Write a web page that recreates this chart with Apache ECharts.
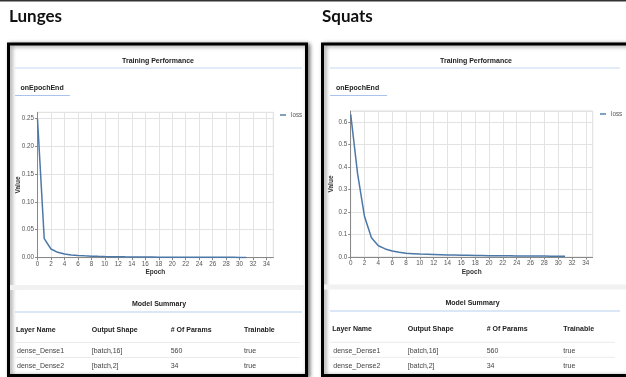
<!DOCTYPE html>
<html>
<head>
<meta charset="utf-8">
<script src="https://cdn.jsdelivr.net/npm/echarts@6/dist/echarts.min.js"></script>
<style>
  html, body { margin: 0; padding: 0; background: #fff; }
  #main { width: 626px; height: 377px; }
</style>
</head>
<body>
<div id="main"></div>
<script>
// data
var epochs = [0, 1, 2, 3, 4, 5, 6, 7, 8, 9, 10, 11, 12, 13, 14, 15,
  16, 17, 18, 19, 20, 21, 22, 23, 24, 25, 26, 27, 28, 29, 30, 31]
var lungesLoss = [0.248, 0.034, 0.0155, 0.0096, 0.0066, 0.005, 0.004, 0.0033,
  0.0028, 0.0024, 0.0021, 0.0019, 0.0017, 0.0015, 0.0014, 0.0013, 0.0012,
  0.0011, 0.001, 0.001, 0.0009, 0.0009, 0.0008, 0.0008, 0.0007, 0.0007,
  0.0007, 0.0006, 0.0006, 0.0006, 0.0005, 0.0005]
var squatsLoss = [0.635, 0.37, 0.18, 0.086, 0.05, 0.036, 0.027, 0.021,
  0.017, 0.015, 0.013, 0.012, 0.011, 0.01, 0.009, 0.0085, 0.008, 0.0075,
  0.007, 0.0065, 0.006, 0.0057, 0.0054, 0.0051, 0.0048, 0.0046, 0.0044,
  0.0042, 0.004, 0.0038, 0.0036, 0.0035]
var panelNames = ['Lunges', 'Squats']
var tableHeaders = ['Layer Name', 'Output Shape', '# Of Params', 'Trainable']
var tableRows = [
  ['dense_Dense1', '[batch,16]', '560', 'true'],
  ['dense_Dense2', '[batch,2]', '34', 'true']
]

var SANS = '"Liberation Sans", Arial, sans-serif'
var LINE_COLOR = '#4c78a8'

// layout of the two cards (pixel positions in the 626x377 window)
var layouts = [
  {
    titleX: 9, boxX: 8.5, boxW: 298, boxY: 44, boxH: 331.5,
    midX: 158, ruleX1: 15, ruleX2: 302, tabX: 20.5, tabX2: 70,
    bandX: 10, bandX2: 305, bandY: 285, sumX: 159, sumY: 304, sumRule: 312,
    headY: 330, cols: [16, 91.7, 170.7, 244], rowY: [351, 366], sepY: [342.5, 357.5], sepX2: 300
  },
  {
    titleX: 322, boxX: 322.5, boxW: 320, boxY: 44, boxH: 331.5,
    midX: 476, ruleX1: 330, ruleX2: 620, tabX: 336, tabX2: 387,
    bandX: 324, bandX2: 626, bandY: 284.5, sumX: 472.5, sumY: 303.5, sumRule: 311,
    headY: 329, cols: [332.3, 407.7, 486.7, 563.3], rowY: [350.7, 366], sepY: [342.3, 357.3], sepX2: 615
  }
]

function text(str, x, y, font, fill, align) {
  return {
    type: 'text',
    z: 5,
    style: {
      text: str, x: x, y: y, font: font, fill: fill,
      textAlign: align || 'left', textVerticalAlign: 'middle'
    }
  }
}

function hline(x1, x2, y, color, w) {
  return {
    type: 'line',
    z: 5,
    shape: { x1: x1, y1: y, x2: x2, y2: y },
    style: { stroke: color, lineWidth: w || 1 }
  }
}

function buildPanel(name, p) {
  var els = []
  els.push(text(name, p.titleX, 16.5, 'bold 17px Lato, "Open Sans", sans-serif', '#111'))
  // card with shadow
  els.push({
    type: 'rect', z: -2,
    shape: { x: p.boxX, y: p.boxY, width: p.boxW, height: p.boxH },
    style: {
      fill: '#fff', stroke: '#000', lineWidth: 3,
      shadowBlur: 4, shadowOffsetX: 2, shadowOffsetY: 1, shadowColor: 'rgba(0,0,0,0.45)'
    }
  })
  els.push(text('Training Performance', p.midX, 61, 'bold 7px ' + SANS, '#222', 'center'))
  els.push(hline(p.ruleX1, p.ruleX2, 68, '#c6d8f0', 1.2))
  els.push(text('onEpochEnd', p.tabX, 88, 'bold 7px ' + SANS, '#222'))
  els.push(hline(p.ruleX1, p.tabX2, 95.5, '#a9c3ea', 1))
  // grey gap between the two cards
  els.push({
    type: 'rect', z: -1,
    shape: { x: p.bandX, y: p.bandY, width: p.bandX2 - p.bandX, height: 5 },
    style: { fill: '#f1f1f1' }
  })
  els.push(text('Model Summary', p.sumX, p.sumY, 'bold 7px ' + SANS, '#222', 'center'))
  els.push(hline(p.ruleX1, p.ruleX2, p.sumRule, '#b7cff0', 1.2))
  tableHeaders.forEach(function(h, i) {
    els.push(text(h, p.cols[i], p.headY, 'bold 7px ' + SANS, '#222'))
  })
  p.sepY.forEach(function(y) {
    els.push(hline(p.ruleX1, p.sepX2, y, '#ececec', 1))
  })
  tableRows.forEach(function(row, r) {
    row.forEach(function(cell, i) {
      els.push(text(cell, p.cols[i] + (i === 0 ? 1 : 0), p.rowY[r], '7px ' + SANS, '#444'))
    })
  })
  return els
}

var graphics = [{
  type: 'rect', z: 5,
  shape: { x: 0, y: 0, width: 626, height: 1.5 },
  style: { fill: '#333' }
}]
panelNames.forEach(function(n, i) {
  graphics = graphics.concat(buildPanel(n, layouts[i]))
})

function xAxisFor(idx) {
  return {
    type: 'value', gridIndex: idx, min: 0, max: 35, interval: 2,
    name: 'Epoch', nameLocation: 'middle', nameGap: 11.5, nameMoveOverlap: false,
    nameTextStyle: { fontFamily: SANS, fontSize: 6.5, fontWeight: 'bold', color: '#333' },
    axisLine: { show: true, lineStyle: { color: '#888', width: 1 } },
    axisTick: { show: true, length: 2.5, lineStyle: { color: '#888' } },
    axisLabel: { fontFamily: SANS, fontSize: 6.3, color: '#555', margin: 3.5, showMaxLabel: false },
    splitLine: { show: true, lineStyle: { color: '#e3e3e3', width: 1 } }
  }
}

function yAxisFor(idx, max, interval, digits) {
  return {
    type: 'value', gridIndex: idx, min: 0, max: max, interval: interval,
    name: 'Value', nameLocation: 'middle', nameGap: 15.5, nameRotate: 90, nameMoveOverlap: false,
    nameTextStyle: { fontFamily: SANS, fontSize: 6.5, fontWeight: 'bold', color: '#333' },
    axisLine: { show: true, lineStyle: { color: '#888', width: 1 } },
    axisTick: { show: true, length: 2.5, lineStyle: { color: '#888' } },
    axisLabel: {
      fontFamily: SANS, fontSize: 6.3, color: '#555', margin: 3.5, showMaxLabel: false,
      formatter: function(v) { return v.toFixed(digits) }
    },
    splitLine: { show: true, lineStyle: { color: '#e3e3e3', width: 1 } }
  }
}

function legendFor(left, top) {
  return {
    left: left, top: top, orient: 'vertical', padding: 0,
    icon: 'rect', itemWidth: 6, itemHeight: 1.4, itemGap: 2,
    textStyle: { fontFamily: SANS, fontSize: 6.3, color: '#555' },
    data: ['loss']
  }
}

function pairs(ys) {
  return epochs.map(function(e, i) { return [e, ys[i]] })
}

var chart = echarts.init(document.getElementById('main'), null, { renderer: 'canvas' })
chart.setOption({
  animation: false,
  backgroundColor: '#fff',
  graphic: graphics,
  legend: [legendFor(280, 112), legendFor(600, 111)],
  grid: [
    { left: 37.5, top: 112.3, width: 235.8, height: 145.4, show: true, borderColor: '#ddd', borderWidth: 1, containLabel: false },
    { left: 350.7, top: 111, width: 242, height: 146, show: true, borderColor: '#ddd', borderWidth: 1, containLabel: false }
  ],
  xAxis: [xAxisFor(0), xAxisFor(1)],
  yAxis: [yAxisFor(0, 0.26, 0.05, 2), yAxisFor(1, 0.65, 0.1, 1)],
  series: [
    {
      name: 'loss', type: 'line', xAxisIndex: 0, yAxisIndex: 0,
      data: pairs(lungesLoss), showSymbol: false, symbol: 'none',
      lineStyle: { color: LINE_COLOR, width: 1.5 }, itemStyle: { color: LINE_COLOR }
    },
    {
      name: 'loss', type: 'line', xAxisIndex: 1, yAxisIndex: 1,
      data: pairs(squatsLoss), showSymbol: false, symbol: 'none',
      lineStyle: { color: LINE_COLOR, width: 1.5 }, itemStyle: { color: LINE_COLOR }
    }
  ]
})
</script>
</body>
</html>
